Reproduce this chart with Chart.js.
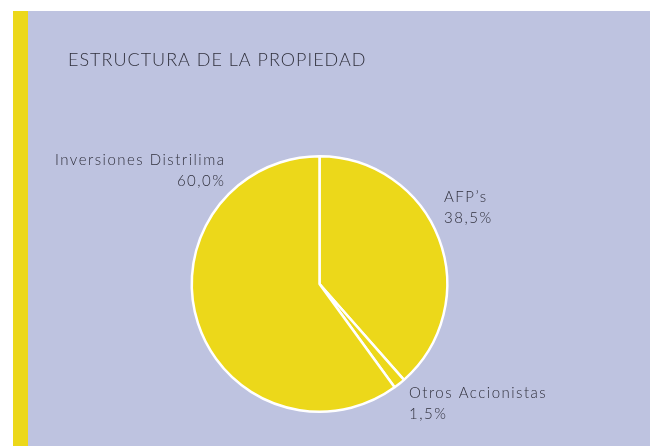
<!DOCTYPE html>
<html>
<head>
<meta charset="utf-8">
<script src="https://cdn.jsdelivr.net/npm/chart.js@4"></script>
<style>
  html, body { margin: 0; padding: 0; background: #ffffff; }
  #wrap { position: relative; width: 650px; height: 446px; overflow: hidden; }
  #panel { position: absolute; left: 13px; top: 11px; right: 0; bottom: 0; background: #bec3e0; }
  #stripe { position: absolute; left: 13px; top: 11px; width: 15px; bottom: 0; background: #ecd81a; }
  #chart { position: absolute; left: 0; top: 0; }
</style>
</head>
<body>
<div id="wrap">
  <div id="panel"></div>
  <div id="stripe"></div>
  <canvas id="chart" width="650" height="446"></canvas>
</div>
<script>
// data
const categories = ["AFP’s", "Otros Accionistas", "Inversiones Distrilima"];
const shares = [38.5, 1.5, 60.0];
const shareLabels = ["38,5%", "1,5%", "60,0%"];

const title = "ESTRUCTURA DE LA PROPIEDAD";
const textColor = '#30303c';
const labelFont = '300 15px Lato, "Open Sans", sans-serif';

// label placement next to each slice (text only)
const labelPos = [
    { x: 444, y: 197, align: 'left' },
    { x: 409, y: 393, align: 'left' },
    { x: 224, y: 160, align: 'right' }
];

function drawText(ctx, str, x, y, align, spacing) {
    ctx.letterSpacing = spacing + 'px';
    let w = ctx.measureText(str).width;
    let sx = align === 'right' ? x - w + spacing : x;
    ctx.textAlign = 'left';
    ctx.fillText(str, sx, y);
}

const textPlugin = {
    id: 'texts',
    afterDraw(chart) {
        const ctx = chart.ctx;
        ctx.save();
        ctx.fillStyle = textColor;
        ctx.textBaseline = 'middle';

        ctx.font = '300 18px Lato, "Open Sans", sans-serif';
        drawText(ctx, title, 68, 60, 'left', 1.0);

        ctx.font = labelFont;
        categories.forEach((name, i) => {
            const p = labelPos[i];
            drawText(ctx, name, p.x, p.y, p.align, 1.5);
            drawText(ctx, shareLabels[i], p.x, p.y + 21, p.align, 1.5);
        });
        ctx.restore();
    }
};

const ctx = document.getElementById('chart').getContext('2d');
const chart = new Chart(ctx, {
    type: 'pie',
    data: {
        labels: categories,
        datasets: [{
            data: shares,
            backgroundColor: ['#ecd81a', '#ecd81a', '#ecd81a'],
            borderColor: '#ffffff',
            borderWidth: 2.5
        }]
    },
    options: {
        responsive: false,
        animation: false,
        layout: { padding: { top: 155, bottom: 33, left: 150, right: 161 } },
        plugins: {
            legend: { display: false },
            tooltip: { enabled: false }
        }
    },
    plugins: [textPlugin]
});
</script>
</body>
</html>
